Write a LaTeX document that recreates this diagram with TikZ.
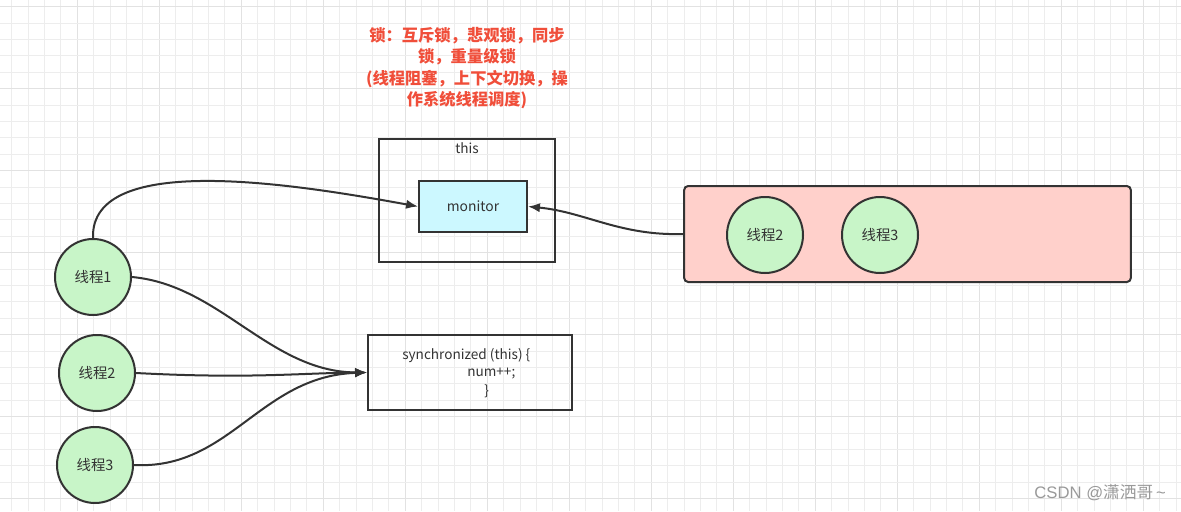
\documentclass[tikz,border=0pt]{standalone}
\usepackage{fontspec}
\setmainfont{Noto Sans CJK SC}
\newfontfamily\arialish{Liberation Sans}
\usetikzlibrary{arrows.meta}
\definecolor{gridminor}{HTML}{EDEDED}
\definecolor{gridmajor}{HTML}{E2E2E2}
\definecolor{edge}{HTML}{333333}
\definecolor{thread}{HTML}{C8F5C8}
\definecolor{monfill}{HTML}{CCF8FF}
\definecolor{queue}{HTML}{FFD0CB}
\definecolor{note}{HTML}{F04E3A}
\definecolor{txt}{HTML}{333333}
\tikzset{
  thr/.style={circle, draw=edge, line width=1.5pt, fill=thread, minimum size=57pt, inner sep=0pt, text=txt, font=\fontsize{10.8}{12}\selectfont},
  boxx/.style={draw=edge, line width=1.4pt, inner sep=0pt, text=txt},
  conn/.style={draw=edge, line width=1.5pt, -{Latex[length=9pt,width=7pt]}},
  plain/.style={text=txt, font=\fontsize{10.2}{12}\selectfont, inner sep=0pt}
}
\begin{document}
\begin{tikzpicture}[x=0.75pt,y=-0.75pt]
\useasboundingbox (0,0) rectangle (1181,511);
\fill[white] (0,0) rectangle (1181,511);
% grid
\foreach \i in {0,...,71}{
  \pgfmathsetmacro{\xx}{11.7+16.4*\i}
  \pgfmathtruncatemacro{\m}{mod(\i,5)}
  \ifnum\m=4 \draw[gridmajor, line width=0.9pt] (\xx,0) -- (\xx,511);
  \else \draw[gridminor, line width=0.7pt] (\xx,0) -- (\xx,511); \fi
}
\foreach \j in {0,...,30}{
  \pgfmathsetmacro{\yy}{6.7+16.4*\j}
  \pgfmathtruncatemacro{\m}{mod(\j,5)}
  \ifnum\m=0 \draw[gridmajor, line width=0.9pt] (0,\yy) -- (1181,\yy);
  \else \draw[gridminor, line width=0.7pt] (0,\yy) -- (1181,\yy); \fi
}
% note
\node[text=note, font=\bfseries\fontsize{12.2}{16.2}\selectfont, align=center, inner sep=0pt] (note) at (467,68)
  {锁：互斥锁，悲观锁，同步\\锁，重量级锁\\(线程阻塞，上下文切换，操\\作系统线程调度)};
% this box
\node[boxx, minimum width=132pt, minimum height=92pt] (this) at (467,200.5) {};
\node[plain, anchor=north] (thislbl) at (467,142) {this};
\node[boxx, fill=monfill, minimum width=81pt, minimum height=38pt, font=\fontsize{10.4}{12}\selectfont] (mon) at (473,206.5) {monitor};
% queue box
\node[draw=edge, line width=1.5pt, fill=queue, rounded corners=3pt, minimum width=335pt, minimum height=72pt] (queue) at (907.5,234) {};
\node[thr] (q2) at (765,235) {线程2};
\node[thr] (q3) at (880,235) {线程3};
% sync box
\node[boxx, minimum width=153pt, minimum height=56pt] (sync) at (470,372.5) {};
\node[plain, anchor=west] (s1) at (402,356) {synchronized (this) \{};
\node[plain, anchor=west] (s2) at (467,374) {num++;};
\node[plain, anchor=west] (s3) at (484,391) {\}};
% threads
\node[thr] (t1) at (93,277) {线程1};
\node[thr] (t2) at (97,373) {线程2};
\node[thr] (t3) at (95,465) {线程3};
% connectors
\draw[conn] (t1.north) .. controls (90,150) and (300,185) .. (mon.west);
\draw[conn] (queue.west) .. controls (620,236) and (585,212) .. (mon.east);
\draw[conn] (t1.east) .. controls (220,285) and (270,372) .. (sync.west);
\draw[conn] (t2.east) .. controls (250,379) and (300,373) .. (sync.west);
\draw[conn] (t3.east) .. controls (230,470) and (260,376) .. (sync.west);
% watermark
\node[text=gray!80, font=\fontsize{12.5}{14}\selectfont, anchor=east, inner sep=0pt] (wm) at (1166,493) {{\arialish CSDN @}潇洒哥{\arialish\,\textasciitilde}};
\end{tikzpicture}
\end{document}
